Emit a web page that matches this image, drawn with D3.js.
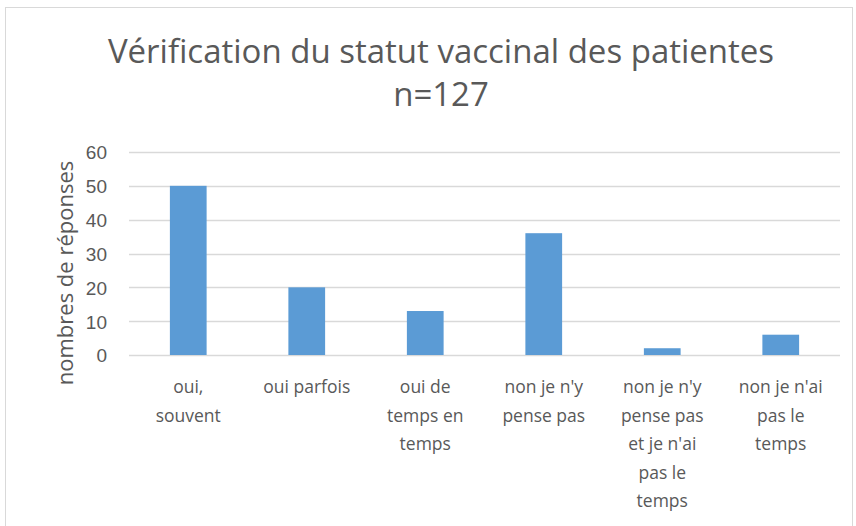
<!DOCTYPE html>
<html>
<head>
<meta charset="utf-8">
<script src="https://cdn.jsdelivr.net/npm/d3@7"></script>
<style>
  body { margin: 0; background: #fff; }
  svg { display: block; font-family: "Open Sans", sans-serif; }
</style>
</head>
<body>
<svg id="chart" width="856" height="526"></svg>
<script>
const categories = [
  ['oui,', 'souvent'],
  ['oui parfois'],
  ['oui de', 'temps en', 'temps'],
  ["non je n'y", 'pense pas'],
  ["non je n'y", 'pense pas', "et je n'ai", 'pas le', 'temps'],
  ["non je n'ai", 'pas le', 'temps'],
];
const values = [50, 20, 13, 36, 2, 6];
const yTicks = [0, 10, 20, 30, 40, 50, 60];
const titleLines = ['Vérification du statut vaccinal des patientes', 'n=127'];
const yTitle = 'nombres de réponses';

const svg = d3.select('#chart');
const textColor = '#595959';

// chart frame
svg.append('rect')
  .attr('x', 5.5).attr('y', 7.5)
  .attr('width', 847).attr('height', 530)
  .attr('fill', 'none').attr('stroke', '#d9d9d9');

const plotLeft = 129, plotRight = 840, plotTop = 152, plotBottom = 355;

const x = d3.scaleBand()
  .domain(d3.range(categories.length))
  .range([plotLeft, plotRight])
  .paddingInner(0.69).paddingOuter(0.345);

const y = d3.scaleLinear().domain([0, 60]).range([plotBottom, plotTop]);

// gridlines
svg.append('g')
  .selectAll('line')
  .data(yTicks)
  .join('line')
  .attr('x1', plotLeft).attr('x2', plotRight)
  .attr('y1', (d) => Math.round(y(d)) + 0.5)
  .attr('y2', (d) => Math.round(y(d)) + 0.5)
  .attr('stroke', '#d9d9d9').attr('stroke-width', 1.3);

// y axis labels
const yAxis = svg.append('g')
  .attr('transform', `translate(${plotLeft - 22},0)`)
  .call(d3.axisLeft(y).tickValues(yTicks).tickSize(0).tickPadding(0));
yAxis.select('.domain').remove();
yAxis.selectAll('text')
  .attr('fill', textColor)
  .style('font-size', '19px')
  .attr('dy', '0.36em');

// bars
svg.append('g')
  .selectAll('rect')
  .data(values)
  .join('rect')
  .attr('x', (d, i) => x(i))
  .attr('width', x.bandwidth())
  .attr('y', (d) => y(d))
  .attr('height', (d) => y(0) - y(d))
  .attr('fill', '#5b9bd5');

// category labels
const cat = svg.append('g')
  .selectAll('text')
  .data(categories)
  .join('text')
  .attr('x', (d, i) => x(i) + x.bandwidth() / 2)
  .attr('y', 393)
  .attr('text-anchor', 'middle')
  .attr('fill', textColor)
  .style('font-size', '17.5px');
cat.each((d, i, n) => {
  d3.select(n[i]).selectAll('tspan')
    .data(d)
    .join('tspan')
    .attr('x', x(i) + x.bandwidth() / 2)
    .attr('dy', (t, j) => (j === 0 ? 0 : 28.5))
    .text((t) => t);
});

// y title
svg.append('text')
  .attr('transform', 'translate(73,273) rotate(-90)')
  .attr('text-anchor', 'middle')
  .attr('fill', textColor)
  .style('font-size', '22px')
  .text(yTitle);

// title
svg.append('g')
  .selectAll('text')
  .data(titleLines)
  .join('text')
  .attr('x', 441)
  .attr('y', (d, i) => 63 + i * 43)
  .attr('text-anchor', 'middle')
  .attr('fill', textColor)
  .style('font-size', '33px')
  .text((d) => d);
</script>
</body>
</html>
